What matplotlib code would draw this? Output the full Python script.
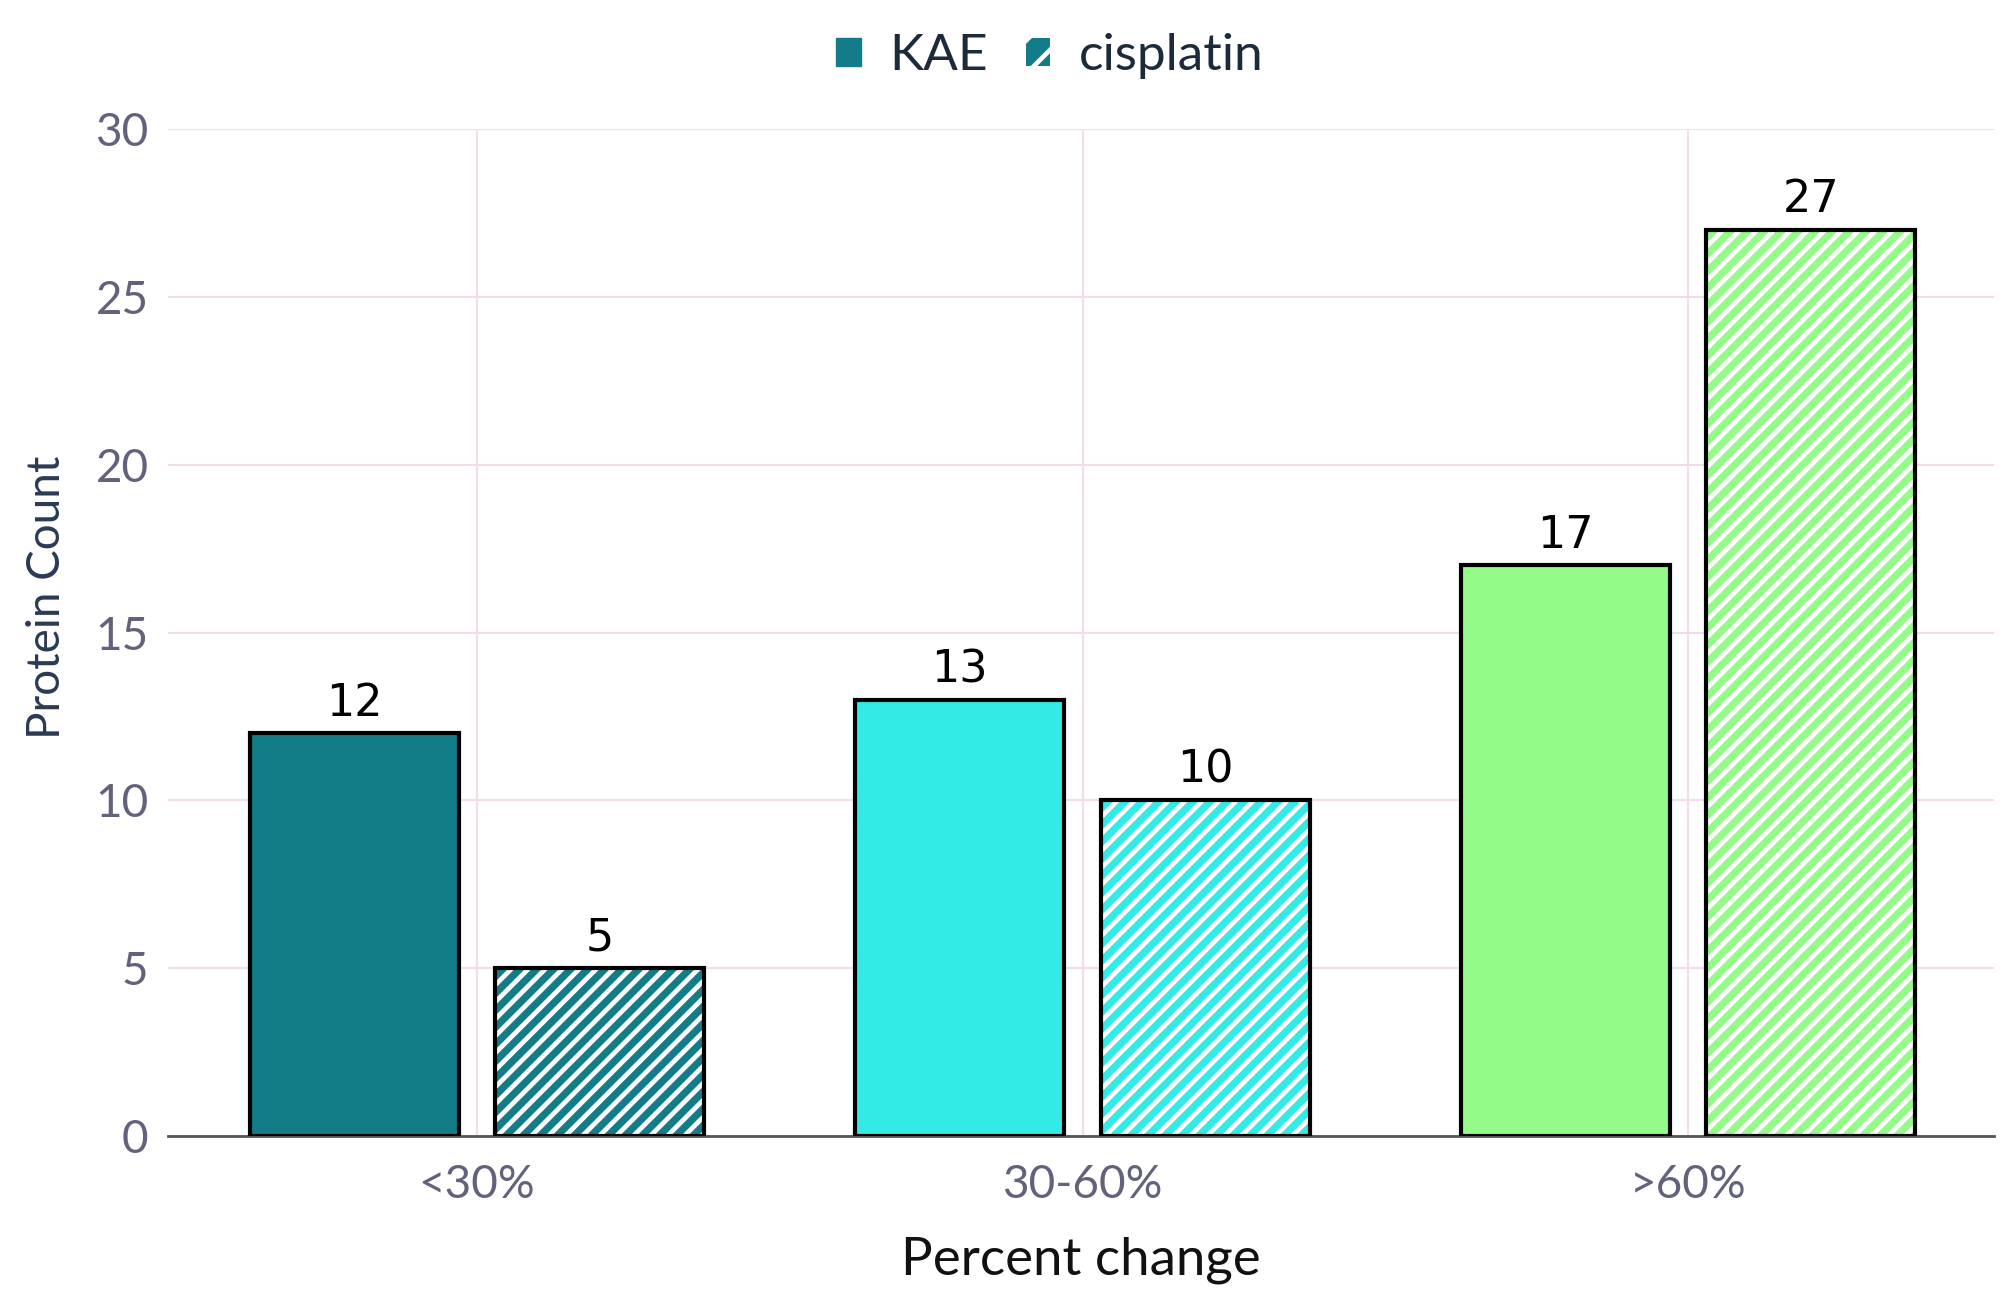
import numpy as np
import matplotlib
matplotlib.use("Agg")
import matplotlib.pyplot as plt
from matplotlib.patches import Patch
from matplotlib.collections import LineCollection

# data
categories = ["<30%", "30-60%", ">60%"]
kae = [12, 13, 17]
cisplatin = [5, 10, 27]
colors = ["#127D89", "#33EBE6", "#95FB88"]

plt.rcParams['font.family'] = ['Lato', 'DejaVu Sans']
plt.rcParams['hatch.linewidth'] = 3.3

fig = plt.figure(figsize=(20.15, 13.1), dpi=100)
ax = fig.add_axes([0.0834, 0.1328, 0.9062, 0.7687])

x = np.arange(len(categories))
w = 0.345
off = 0.2025

ax.set_xlim(-0.51, 2.505)
ax.set_ylim(0, 30)

# KAE: solid bars
ax.bar(x - off, kae, w, color=colors, edgecolor="black", linewidth=3, zorder=3)
# cisplatin: coloured bars with white diagonal stripes, then black outline
cbars = ax.bar(x + off, cisplatin, w, color=colors, linewidth=0, zorder=3)
ax.bar(x + off, cisplatin, w, fill=False, edgecolor="black", linewidth=3, zorder=5)

# stripes at 45 deg on screen, ~17 px apart
px_x = ax.transData.transform((1, 0))[0] - ax.transData.transform((0, 0))[0]
px_y = ax.transData.transform((0, 1))[1] - ax.transData.transform((0, 0))[1]
step = 17 / px_x
for rect in cbars:
    h = rect.get_height()
    dx = h * px_y / px_x
    starts = np.arange(rect.get_x() - dx, rect.get_x() + rect.get_width(), step)
    segs = [[(s, 0), (s + dx, h)] for s in starts]
    lc = LineCollection(segs, colors="white", linewidths=3.4, zorder=4)
    ax.add_collection(lc)
    lc.set_clip_path(rect)

for xi, v in zip(x - off, kae):
    ax.text(xi, v + 0.25, str(v), ha="center", va="bottom", fontsize=32,
            family="DejaVu Sans", color="black", zorder=6)
for xi, v in zip(x + off, cisplatin):
    ax.text(xi, v + 0.25, str(v), ha="center", va="bottom", fontsize=32,
            family="DejaVu Sans", color="black", zorder=6)

ax.set_yticks([0, 5, 10, 15, 20, 25, 30])
ax.set_xticks(x)
ax.set_xticklabels(categories)
ax.tick_params(axis="both", length=0, labelsize=33, labelcolor="#62627C")
ax.tick_params(axis="x", pad=20)
ax.tick_params(axis="y", pad=14)

ax.grid(True, color="#F2DCEA", linewidth=1.5, zorder=0)
for s in ["top", "right", "left"]:
    ax.spines[s].set_visible(False)
ax.spines["bottom"].set_color("#555555")
ax.spines["bottom"].set_linewidth(2)
ax.spines["bottom"].set_zorder(2)

ax.set_xlabel("Percent change", fontsize=38, color="#111111", labelpad=22)
ax.set_ylabel("Protein Count", fontsize=33, color="#2B3A55")
ax.yaxis.set_label_coords(-0.055, 0.535)

handles = [Patch(facecolor=colors[0], edgecolor=colors[0], label="KAE"),
           Patch(facecolor=colors[0], edgecolor="white", hatch="/", linewidth=0, label="cisplatin")]
fig.legend(handles=handles, loc="center", bbox_to_anchor=(0.521, 0.957), ncol=2, frameon=False,
           fontsize=37, labelcolor="#1C2B3C", handlelength=0.47, handleheight=0.47,
           handletextpad=0.55, columnspacing=0.75)

fig.savefig("out.png", dpi=100, facecolor="white")
